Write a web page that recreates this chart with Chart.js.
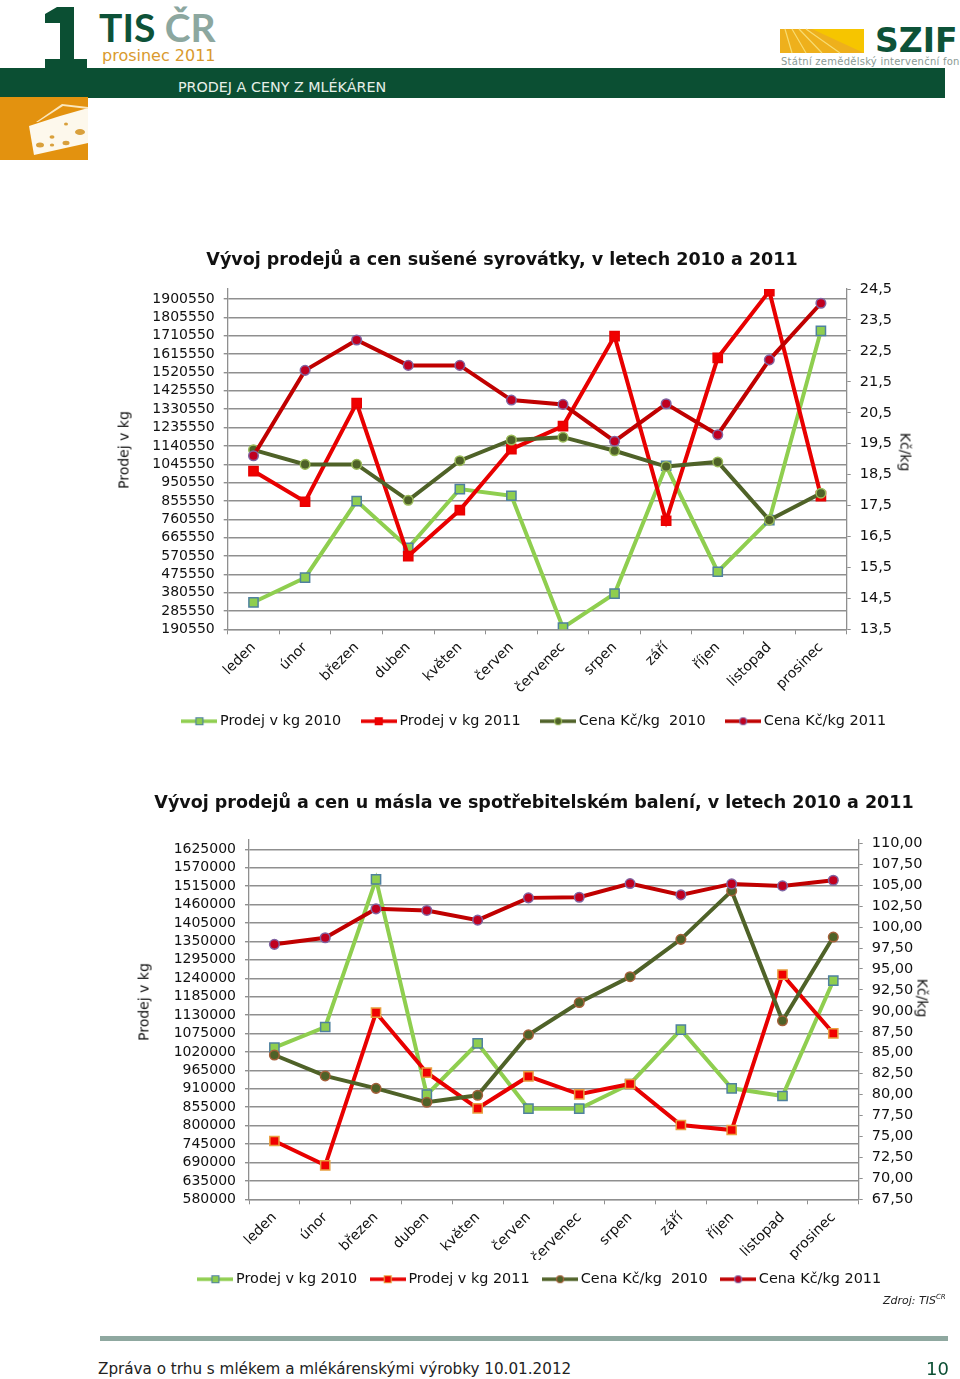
<!DOCTYPE html>
<html lang="cs">
<head>
<meta charset="utf-8">
<title>Prodej a ceny z mlékáren</title>
<script src="https://cdn.jsdelivr.net/npm/chart.js@4"></script>
<style>
html, body { margin: 0; background: #fff; }
#page { position: relative; width: 960px; height: 1379px; overflow: hidden; font-family: "DejaVu Sans", sans-serif; color: #111; }
#page > * { position: absolute; }
canvas { display: block; }
.vtitle { font-size: 14px; line-height: 17px; white-space: nowrap; transform: translate(-50%, -50%) rotate(-90deg); }
.vtitle.right { transform: translate(-50%, -50%) rotate(90deg); }
</style>
</head>
<body>
<div id="page">
  <svg style="left:0;top:0" width="960" height="165">
    <!-- big 1 -->
    <path d="M57 7 H74 V59 H87 V69 H45 V59 H60 V23 H45 V14 Z" fill="#0b4f33"/>
    <rect x="0" y="68" width="945" height="30" fill="#0b4f33"/>
    <rect x="0" y="97" width="88" height="63" fill="#e3920f"/>
    <!-- cheese -->
    <path d="M29 126 L60 116 L88 108 V143 L34 155 Z" fill="#fdf8ec"/>
    <path d="M36 122 L62 104 L88 107 V109 L63 106 L38 122 Z" fill="#fbe7bd"/>
    <g fill="#d9a03c">
      <ellipse cx="80" cy="132" rx="5" ry="3"/><ellipse cx="40" cy="145" rx="4" ry="2.5"/>
      <ellipse cx="66" cy="143" rx="3.5" ry="2.2"/><ellipse cx="52" cy="137" rx="2.5" ry="1.8"/>
      <ellipse cx="52" cy="145" rx="2.2" ry="1.6"/><ellipse cx="66" cy="124" rx="2" ry="1.6"/>
    </g>
    <!-- SZIF mark -->
    <rect x="780" y="29" width="84" height="24" fill="#f6c500"/>
    <path d="M780 29 H812 L864 53 H780 Z" fill="#eeb01c"/>
    <g stroke="#f8dc70" stroke-width="1.2">
      <path d="M785 29 L792 53 M792 29 L806 53 M799 29 L822 53 M806 29 L840 53"/>
    </g>
  </svg>
  <div style="left:99px;top:3px;font:bold 39px/48px Lato,sans-serif;color:#0d5238;white-space:pre">TIS <span style="color:#8ca79f">ČR</span></div>
  <div style="left:102px;top:46px;font-size:16px;line-height:20px;color:#d99a2e">prosinec 2011</div>
  <div style="left:178px;top:78px;font-size:14.3px;line-height:18px;color:#e6efe8">PRODEJ A CENY Z MLÉKÁREN</div>
  <div style="left:875px;top:21px;font:bold 33px/40px 'DejaVu Sans',sans-serif;color:#0d5238;white-space:nowrap">SZIF</div>
  <div style="left:781px;top:55px;font-size:10px;line-height:13px;color:#8a9a94;letter-spacing:.25px;white-space:nowrap">Státní zemědělský intervenční fond</div>

  <canvas id="chart1" width="960" height="500" style="left:0;top:240px"></canvas>
  <canvas id="chart2" width="960" height="520" style="left:0;top:780px"></canvas>

  <div class="vtitle" style="left:124px;top:450px">Prodej v kg</div>
  <div class="vtitle right" style="left:905px;top:452px">Kč/kg</div>
  <div class="vtitle" style="left:144px;top:1002px">Prodej v kg</div>
  <div class="vtitle right" style="left:922px;top:998px">Kč/kg</div>

  <div style="left:883px;top:1294px;font-size:11px;line-height:14px;font-style:italic;color:#222">Zdroj: TIS<sup style="font-size:7px;line-height:0">CR</sup></div>
  <div style="left:100px;top:1336px;width:848px;height:5px;background:#8fa8a0"></div>
  <div style="left:98px;top:1359px;font-size:15.2px;line-height:20px;color:#222;white-space:nowrap">Zpráva o trhu s mlékem a mlékárenskými výrobky 10.01.2012</div>
  <div style="left:926px;top:1357px;font-size:18px;line-height:24px;color:#0b4f33">10</div>
</div>

<script>
var months = ['leden', 'únor', 'březen', 'duben', 'květen', 'červen', 'červenec', 'srpen', 'září', 'říjen', 'listopad', 'prosinec'];
var seriesNames = ['Prodej v kg 2010', 'Prodej v kg 2011', 'Cena Kč/kg  2010', 'Cena Kč/kg 2011'];

// syrovatka
var whey2010Kg = [330300, 457700, 854800, 613000, 916900, 882200, 198800, 374900, 1037500, 488700, 756400, 1736400];
var whey2011Kg = [1010100, 851100, 1362100, 570000, 808200, 1124000, 1243000, 1709000, 752800, 1596600, 1941900, 880600];
var whey2010Price = [19.30, 18.83, 18.83, 17.67, 18.95, 19.62, 19.71, 19.27, 18.76, 18.91, 17.03, 17.90];
var whey2011Price = [19.11, 21.87, 22.85, 22.03, 22.03, 20.91, 20.77, 19.58, 20.79, 19.79, 22.21, 24.04];
var wheyKgTicks = [190550, 285550, 380550, 475550, 570550, 665550, 760550, 855550, 950550, 1045550, 1140550, 1235550, 1330550, 1425550, 1520550, 1615550, 1710550, 1805550, 1900550];
var wheyPriceTicks = [13.5, 14.5, 15.5, 16.5, 17.5, 18.5, 19.5, 20.5, 21.5, 22.5, 23.5, 24.5];

// maslo
var butter2010Kg = [1032600, 1094400, 1535400, 892300, 1045800, 850500, 850500, 924300, 1086400, 911400, 888400, 1232700];
var butter2011Kg = [754100, 681500, 1137100, 958000, 851700, 947200, 893500, 924300, 801800, 786900, 1250600, 1075600];
var butter2010Price = [84.73, 82.23, 80.75, 79.08, 79.92, 87.14, 90.99, 94.08, 98.54, 104.32, 88.81, 98.81];
var butter2011Price = [97.94, 98.73, 102.18, 101.99, 100.83, 103.49, 103.57, 105.20, 103.85, 105.16, 104.92, 105.60];
var butterKgTicks = [580000, 635000, 690000, 745000, 800000, 855000, 910000, 965000, 1020000, 1075000, 1130000, 1185000, 1240000, 1295000, 1350000, 1405000, 1460000, 1515000, 1570000, 1625000];
var butterPriceTicks = [67.5, 70, 72.5, 75, 77.5, 80, 82.5, 85, 87.5, 90, 92.5, 95, 97.5, 100, 102.5, 105, 107.5, 110];

var LEGEND_H = 40;
Chart.defaults.font.family = '"DejaVu Sans", sans-serif';
Chart.defaults.font.size = 14;
Chart.defaults.color = '#111';

// small canvas used as legend symbol: line with marker in the middle
function makeSwatch(s) {
    var c = document.createElement('canvas');
    c.width = 36;
    c.height = 12;
    var ctx = c.getContext('2d');
    ctx.strokeStyle = s.line;
    ctx.lineWidth = 3.5;
    ctx.beginPath();
    ctx.moveTo(0, 6);
    ctx.lineTo(36, 6);
    ctx.stroke();
    ctx.fillStyle = s.fill;
    ctx.strokeStyle = s.border;
    ctx.lineWidth = 1.2;
    ctx.beginPath();
    if (s.shape === 'rect') {
        ctx.rect(14.5, 2.5, 7, 7);
    } else {
        ctx.arc(18, 6, 3.5, 0, Math.PI * 2);
    }
    ctx.fill();
    ctx.stroke();
    return c;
}

function buildChart(id, cfg) {
    var datasets = cfg.series.map(function(s, i) {
        return {
            label: seriesNames[i],
            data: s.data,
            yAxisID: s.axis,
            order: 4 - i, // Excel paints the later series on top
            borderColor: s.line,
            backgroundColor: s.line,
            borderWidth: 4,
            tension: 0,
            pointStyle: s.shape,
            pointRadius: s.shape === 'rect' ? 6.5 : 4.8,
            pointBorderWidth: 1.5,
            pointBackgroundColor: s.fill,
            pointBorderColor: s.border
        };
    });

    new Chart(document.getElementById(id), {
        type: 'line',
        data: { labels: months, datasets: datasets },
        options: {
            responsive: false,
            animation: false,
            layout: { padding: 0 },
            scales: {
                x: {
                    offset: true,
                    grid: { drawOnChartArea: false, color: '#8f8f8f', tickLength: 5, offset: true },
                    border: { color: '#8f8f8f', width: 1.3 },
                    ticks: { autoSkip: false, minRotation: 45, maxRotation: 45, padding: cfg.xPad, font: { size: 14 } },
                    afterFit: function(scale) { scale.height = cfg.xHeight; }
                },
                y: {
                    position: 'left',
                    min: cfg.kgTicks[0],
                    max: cfg.kgMax,
                    grid: { color: '#8f8f8f', lineWidth: 1.4, tickLength: 4 },
                    border: { color: '#8f8f8f', width: 1.3 },
                    ticks: { autoSkip: false, padding: 9, font: { size: 14 }, callback: function(v) { return String(v); } },
                    afterBuildTicks: function(scale) {
                        scale.ticks = cfg.kgTicks.map(function(v) { return { value: v }; });
                    },
                    afterFit: function(scale) { scale.width = cfg.plotLeft; }
                },
                y1: {
                    position: 'right',
                    min: cfg.priceTicks[0],
                    max: cfg.priceMax,
                    grid: { drawOnChartArea: false, color: '#8f8f8f', tickLength: 4 },
                    border: { color: '#8f8f8f', width: 1.3 },
                    ticks: {
                        autoSkip: false,
                        padding: 9,
                        font: { size: 14.5 },
                        callback: function(v) { return v.toFixed(cfg.priceDigits).replace('.', ','); }
                    },
                    afterBuildTicks: function(scale) {
                        scale.ticks = cfg.priceTicks.map(function(v) { return { value: v }; });
                    },
                    afterFit: function(scale) { scale.width = 960 - cfg.plotRight; }
                }
            },
            plugins: {
                tooltip: { enabled: false },
                title: {
                    display: true,
                    text: cfg.title,
                    color: '#111',
                    font: { size: 17.5, weight: 'bold', lineHeight: 1.2 },
                    padding: cfg.titlePad
                },
                legend: {
                    position: 'bottom',
                    labels: {
                        usePointStyle: true,
                        pointStyleWidth: 27,
                        padding: cfg.legendPad,
                        color: '#111',
                        font: { size: 14.4 },
                        generateLabels: function() {
                            return cfg.series.map(function(s, i) {
                                return {
                                    text: seriesNames[i],
                                    pointStyle: makeSwatch(s),
                                    fontColor: '#111',
                                    lineWidth: 0,
                                    datasetIndex: i
                                };
                            });
                        }
                    }
                }
            }
        },
        plugins: [{
            id: 'pinBoxes',
            beforeLayout: function(chart) {
                // keep the legend a fixed height so the plot area lands where it should
                var legend = chart.legend;
                if (!legend._pinned) {
                    var fit = legend.fit;
                    legend.fit = function() {
                        fit.call(this);
                        this.height = LEGEND_H;
                    };
                    legend._pinned = true;
                }
            },
            afterLayout: function(chart) {
                chart.titleBlock.left = cfg.titleX - 480;
                chart.titleBlock.right = cfg.titleX + 480;
                chart.legend.left = cfg.legendX - 480;
                chart.legend.right = cfg.legendX + 480;
                chart.legend.top = cfg.legendTop;
                chart.legend.bottom = cfg.legendTop + LEGEND_H;
            }
        }]
    });
}

buildChart('chart1', {
    title: 'Vývoj prodejů a cen sušené syrovátky, v letech 2010 a 2011',
    titleX: 502,
    titlePad: { top: 10, bottom: 18 },
    plotLeft: 227.7,
    plotRight: 846.7,
    xHeight: 70.7,
    xPad: 5,
    kgTicks: wheyKgTicks,
    kgMax: 1953000,
    priceTicks: wheyPriceTicks,
    priceMax: 24.5,
    priceDigits: 1,
    legendX: 536,
    legendTop: 450,
    legendPad: 24,
    series: [
        { data: whey2010Kg, axis: 'y', shape: 'rect', line: '#8fce4f', fill: '#8fce4f', border: '#4f81a0' },
        { data: whey2011Kg, axis: 'y', shape: 'rect', line: '#e80000', fill: '#f00000', border: '#e80000' },
        { data: whey2010Price, axis: 'y1', shape: 'circle', line: '#4f6228', fill: '#4f6228', border: '#9bbb59' },
        { data: whey2011Price, axis: 'y1', shape: 'circle', line: '#c00000', fill: '#c00020', border: '#8064a2' }
    ]
});

buildChart('chart2', {
    title: 'Vývoj prodejů a cen u másla ve spotřebitelském balení, v letech 2010 a 2011',
    titleX: 534,
    titlePad: { top: 13.2, bottom: 25.8 },
    plotLeft: 249,
    plotRight: 858.7,
    xHeight: 60.7,
    xPad: 5,
    kgTicks: butterKgTicks,
    kgMax: 1652800,
    priceTicks: butterPriceTicks,
    priceMax: 110.4,
    priceDigits: 2,
    legendX: 541.5,
    legendTop: 475,
    legendPad: 17,
    series: [
        { data: butter2010Kg, axis: 'y', shape: 'rect', line: '#8fce4f', fill: '#8fce4f', border: '#4f81a0' },
        { data: butter2011Kg, axis: 'y', shape: 'rect', line: '#e80000', fill: '#f00000', border: '#e8a040' },
        { data: butter2010Price, axis: 'y1', shape: 'circle', line: '#4f6228', fill: '#4f6228', border: '#a5603a' },
        { data: butter2011Price, axis: 'y1', shape: 'circle', line: '#c00000', fill: '#c00020', border: '#8064a2' }
    ]
});
</script>
</body>
</html>
